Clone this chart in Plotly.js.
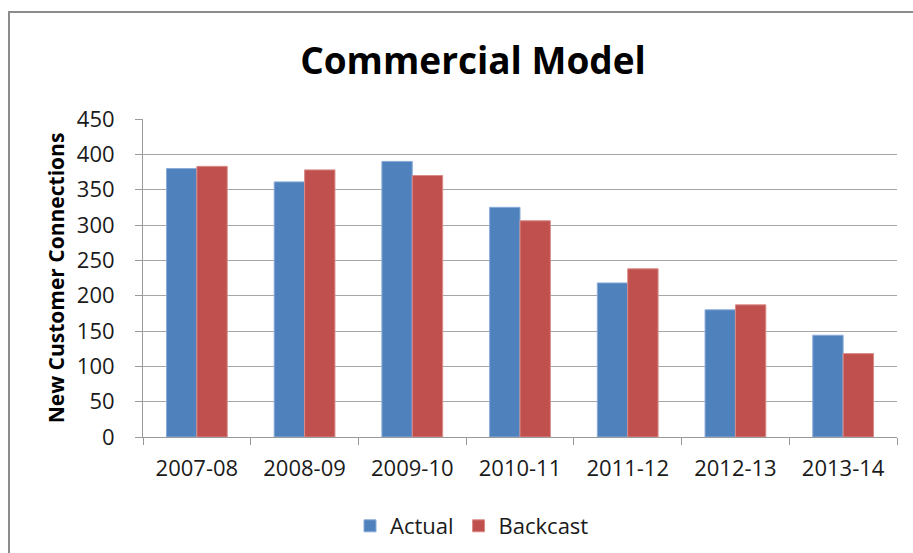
<!DOCTYPE html>
<html>
<head>
<meta charset="utf-8">
<script src="https://cdn.plot.ly/plotly-3.0.1.min.js"></script>
<style>html,body{margin:0;padding:0;background:#fff;}#chart{width:913px;height:553px;}</style>
</head>
<body>
<div id="chart"></div>
<script>
const categories = ["2007-08", "2008-09", "2009-10", "2010-11", "2011-12", "2012-13", "2013-14"];
const actual = [380, 361, 390, 325, 218, 180, 144];
const backcast = [383, 378, 370, 306, 238, 187, 118];
const yTicks = [0, 50, 100, 150, 200, 250, 300, 350, 400, 450];

const FONT = '"Open Sans", "Noto Sans", sans-serif';
const traces = [
  {type: 'bar', name: 'Actual', x: categories, y: actual,
   marker: {color: '#4F81BD', line: {color: '#8AACD8', width: 1}}},
  {type: 'bar', name: 'Backcast', x: categories, y: backcast,
   marker: {color: '#C0504D', line: {color: '#D98C8A', width: 1}}}
];
const layout = {
  width: 913, height: 553,
  margin: {l: 143, r: 16, t: 119, b: 116, autoexpand: false},
  paper_bgcolor: '#ffffff', plot_bgcolor: '#ffffff',
  font: {family: FONT, color: '#1a1a1a', size: 22},
  title: {text: '<b>Commercial Model</b>', x: 473/913, xanchor: 'center', xref: 'container',
          y: 1 - 61/553, yref: 'container', yanchor: 'middle',
          font: {family: FONT, size: 37, color: '#000'}},
  barmode: 'group', bargap: 0.436, bargroupgap: 0,
  showlegend: true,
  legend: {orientation: 'h', x: (472-143)/754, xanchor: 'center', y: (437-526)/318, yanchor: 'middle',
           font: {family: FONT, size: 22, color: '#1a1a1a'}, bgcolor: 'rgba(0,0,0,0)'},
  xaxis: {type: 'category', tickson: 'boundaries', ticks: 'outside', ticklen: 7, tickcolor: '#9a9a9a',
          showline: true, linecolor: '#9a9a9a', linewidth: 1, showgrid: false, automargin: false,
          tickfont: {family: FONT, size: 22, color: '#1a1a1a'}, ticklabelstandoff: 12},
  yaxis: {range: [0, 450], tickvals: yTicks, ticks: 'outside', ticklen: 7, tickcolor: '#9a9a9a',
          showline: true, linecolor: '#9a9a9a', linewidth: 1, gridcolor: '#a6a6a6', gridwidth: 1,
          zeroline: false, automargin: false,
          tickfont: {family: FONT, size: 22, color: '#1a1a1a'}, ticklabelstandoff: 16,
          title: {text: '<b>New Customer Connections</b>', standoff: 6,
                  font: {family: FONT, size: 21, color: '#000'}}},
  shapes: [{type: 'rect', xref: 'paper', yref: 'paper', x0: (9-143)/754, x1: 1.2, y0: -1, y1: (437-12)/318,
            line: {color: '#8c8c8c', width: 2}, fillcolor: 'rgba(0,0,0,0)', layer: 'below'}]
};
Plotly.newPlot('chart', traces, layout, {displayModeBar: false, staticPlot: true});
</script>
</body>
</html>
